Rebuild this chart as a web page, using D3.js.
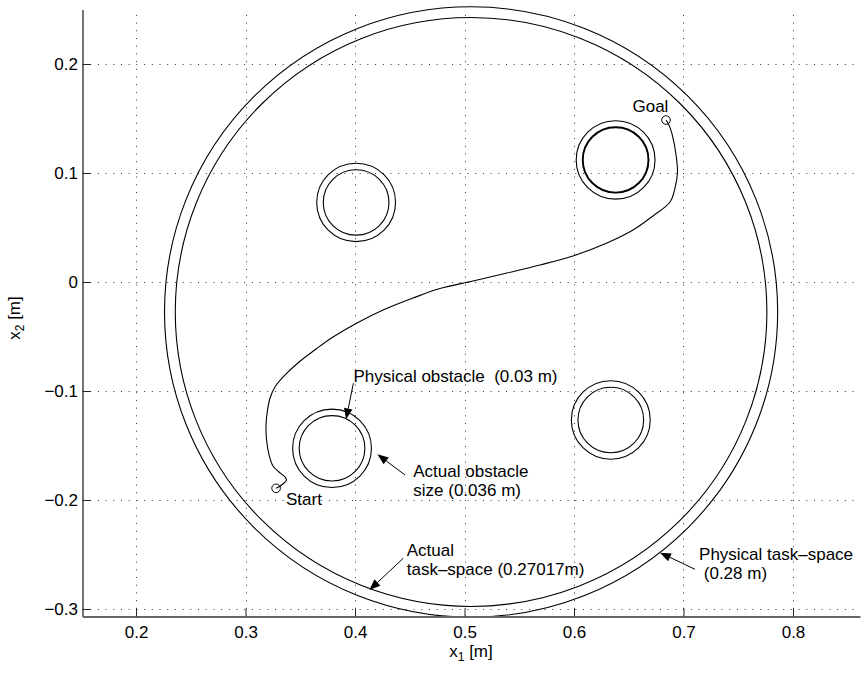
<!DOCTYPE html>
<html><head><meta charset="utf-8">
<script src="https://cdn.jsdelivr.net/npm/d3@7"></script>
<style>
html,body{margin:0;padding:0;background:#fff;}
svg{display:block;font-family:"Liberation Sans",Arial,Helvetica,sans-serif;}
</style></head><body>
<svg id="chart" width="861" height="673"></svg>
<script>
// Axis ticks
const xTicks = [0.2, 0.3, 0.4, 0.5, 0.6, 0.7, 0.8];
const yTicks = [-0.3, -0.2, -0.1, 0, 0.1, 0.2];
const xTickLabels = ["0.2", "0.3", "0.4", "0.5", "0.6", "0.7", "0.8"];
const yTickLabels = ["\u22120.3", "\u22120.2", "\u22120.1", "0", "0.1", "0.2"];

// Task-space boundary (m): physical and actual radius
const workspaceCenter = [0.506, -0.0275];
const workspaceRadii = [0.28, 0.27017];

// Obstacles (m): centres, physical and actual radius
const obstacleX = [0.401, 0.638, 0.379, 0.6336];
const obstacleY = [0.073, 0.112, -0.1526, -0.1266];
const obstacleRadii = [0.03, 0.036];

// End-effector trajectory, start -> goal (m)
const pathX = [0.3279, 0.3342, 0.3374, 0.3361, 0.3306, 0.3251, 0.3215, 0.3192, 0.3187, 0.3201,
               0.3224, 0.3269, 0.3361, 0.3489, 0.3644, 0.3799, 0.4018, 0.4256, 0.4530, 0.4776,
               0.5078, 0.5388, 0.5689, 0.5991, 0.6301, 0.6539, 0.6721, 0.6877, 0.6922, 0.6945,
               0.6932, 0.6895, 0.6863, 0.6840];
const pathY = [-0.1893, -0.1853, -0.1817, -0.1789, -0.1743, -0.1688, -0.1587, -0.1450, -0.1312, -0.1174,
               -0.1064, -0.0963, -0.0853, -0.0734, -0.0615, -0.0505, -0.0376, -0.0257, -0.0147, -0.0060,
               0.0009, 0.0083, 0.0156, 0.0239, 0.0358, 0.0477, 0.0606, 0.0734, 0.0862, 0.1000,
               0.1165, 0.1358, 0.1450, 0.1486];

// Annotations (m)
const noteLines = [["Physical obstacle \u00a0(0.03 m)"], ["Actual obstacle", "size (0.036 m)"],
                   ["Actual", "task\u2013space (0.27017m)"], ["Physical task\u2013space", "\u00a0(0.28 m)"]];
const noteAnchor = [[0.3985, -0.0922], [0.4532, -0.1786], [0.4472, -0.2511], [0.7142, -0.2550]];
const arrowTail = [[0.3985, -0.0929], [0.4457, -0.1771], [0.4441, -0.2535], [0.7105, -0.2636]];
const arrowTip = [[0.3918, -0.1260], [0.4204, -0.1581], [0.4131, -0.2826], [0.6785, -0.2483]];

const svg = d3.select("#chart");
const x = d3.scaleLinear().domain([0.1511, 0.8612]).range([82.5, 860]);
const y = d3.scaleLinear().domain([-0.3069, 0.25]).range([616.5, 9.5]);
const [x0, x1] = x.range();
const [y0, y1] = y.range();

// Dotted grid
const grid = svg.append("g").attr("stroke", "#333").attr("stroke-width", 1)
  .attr("stroke-dasharray", "1,6.7").attr("fill", "none");
grid.selectAll("line.v").data(xTicks).join("line").attr("class", "v")
  .attr("x1", d => Math.round(x(d)) + 0.5).attr("x2", d => Math.round(x(d)) + 0.5)
  .attr("y1", y0).attr("y2", y1);
grid.selectAll("line.h").data(yTicks).join("line").attr("class", "h")
  .attr("y1", d => Math.round(y(d)) + 0.5).attr("y2", d => Math.round(y(d)) + 0.5)
  .attr("x1", x0).attr("x2", x1);

const plot = svg.append("g").attr("fill", "none").attr("stroke", "#000");

// Task-space circles
workspaceRadii.forEach(r => {
  plot.append("ellipse")
    .attr("cx", x(workspaceCenter[0])).attr("cy", y(workspaceCenter[1]))
    .attr("rx", x(workspaceCenter[0] + r) - x(workspaceCenter[0]))
    .attr("ry", y(workspaceCenter[1]) - y(workspaceCenter[1] + r))
    .attr("stroke-width", 1.1);
});

// Obstacles: physical and actual size
obstacleX.forEach((ox, i) => {
  obstacleRadii.forEach((r, j) => {
    plot.append("ellipse")
      .attr("cx", x(ox)).attr("cy", y(obstacleY[i]))
      .attr("rx", x(ox + r) - x(ox))
      .attr("ry", y(obstacleY[i]) - y(obstacleY[i] + r))
      .attr("stroke-width", (i === 1 && j === 0) ? 1.9 : 1.1);
  });
});

// Trajectory
const pts = pathX.map((px, i) => [px, pathY[i]]);
plot.append("path")
  .attr("d", d3.line().x(d => x(d[0])).y(d => y(d[1])).curve(d3.curveCatmullRom.alpha(0.5))(pts))
  .attr("stroke-width", 1.1);

// Start and goal markers
[pts[0], pts[pts.length - 1]].forEach(p => {
  plot.append("circle").attr("cx", x(p[0])).attr("cy", y(p[1])).attr("r", 4.3).attr("stroke-width", 1);
});

const fs = 17;
const text = svg.append("g").attr("font-size", fs).attr("fill", "#000");
text.append("text").attr("x", x(0.6534)).attr("y", y(0.1564)).text("Goal");
text.append("text").attr("x", x(0.3370)).attr("y", y(-0.2046)).text("Start");

// Annotation labels
noteLines.forEach((lines, i) => {
  const t = text.append("text").attr("x", x(noteAnchor[i][0])).attr("y", y(noteAnchor[i][1]));
  lines.forEach((s, k) => {
    t.append("tspan").attr("x", x(noteAnchor[i][0])).attr("dy", k === 0 ? 0 : 19).text(s);
  });
});

// Annotation arrows
arrowTail.forEach((tail, i) => {
  const tx = x(tail[0]), ty = y(tail[1]);
  const hx = x(arrowTip[i][0]), hy = y(arrowTip[i][1]);
  const len = Math.hypot(hx - tx, hy - ty);
  const ux = (hx - tx) / len, uy = (hy - ty) / len;
  const hl = 11, hw = 4.3;
  const bx = hx - ux * hl, by = hy - uy * hl;
  svg.append("line").attr("x1", tx).attr("y1", ty).attr("x2", bx).attr("y2", by)
    .attr("stroke", "#000").attr("stroke-width", 1);
  svg.append("path")
    .attr("d", `M${hx},${hy}L${bx - uy * hw},${by + ux * hw}L${bx + uy * hw},${by - ux * hw}Z`)
    .attr("fill", "#000").attr("stroke", "none");
});

// Axes (ticks pointing inward, no box)
const xAxis = d3.axisBottom(x).tickValues(xTicks).tickFormat((d, i) => xTickLabels[i])
  .tickSizeInner(-8).tickSizeOuter(0).tickPadding(9.4);
const yAxis = d3.axisLeft(y).tickValues(yTicks).tickFormat((d, i) => yTickLabels[i])
  .tickSizeInner(-8).tickSizeOuter(0).tickPadding(4.5);

const gx = svg.append("g").attr("transform", `translate(0,${y0})`).call(xAxis);
const gy = svg.append("g").attr("transform", `translate(${x0},0)`).call(yAxis);
[gx, gy].forEach(g => {
  g.attr("font-size", fs).attr("font-family", "Liberation Sans, Arial, Helvetica, sans-serif");
  g.select(".domain").attr("stroke", "#666").attr("stroke-width", 1.8);
  g.selectAll(".tick line").attr("stroke", "#222").attr("stroke-width", 1);
  g.selectAll(".tick text").attr("fill", "#000");
});

// Axis titles
const xl = svg.append("text").attr("x", 471).attr("y", 657).attr("text-anchor", "middle")
  .attr("font-size", fs);
xl.append("tspan").text("x");
xl.append("tspan").attr("font-size", 12).attr("dy", 4).text("1");
xl.append("tspan").attr("dy", -4).text("\u00a0[m]");

const yl = svg.append("text").attr("transform", "translate(19.5,318) rotate(-90)")
  .attr("text-anchor", "middle").attr("font-size", fs);
yl.append("tspan").text("x");
yl.append("tspan").attr("font-size", 12).attr("dy", 4).text("2");
yl.append("tspan").attr("dy", -4).text("\u00a0[m]");
</script>
</body></html>
